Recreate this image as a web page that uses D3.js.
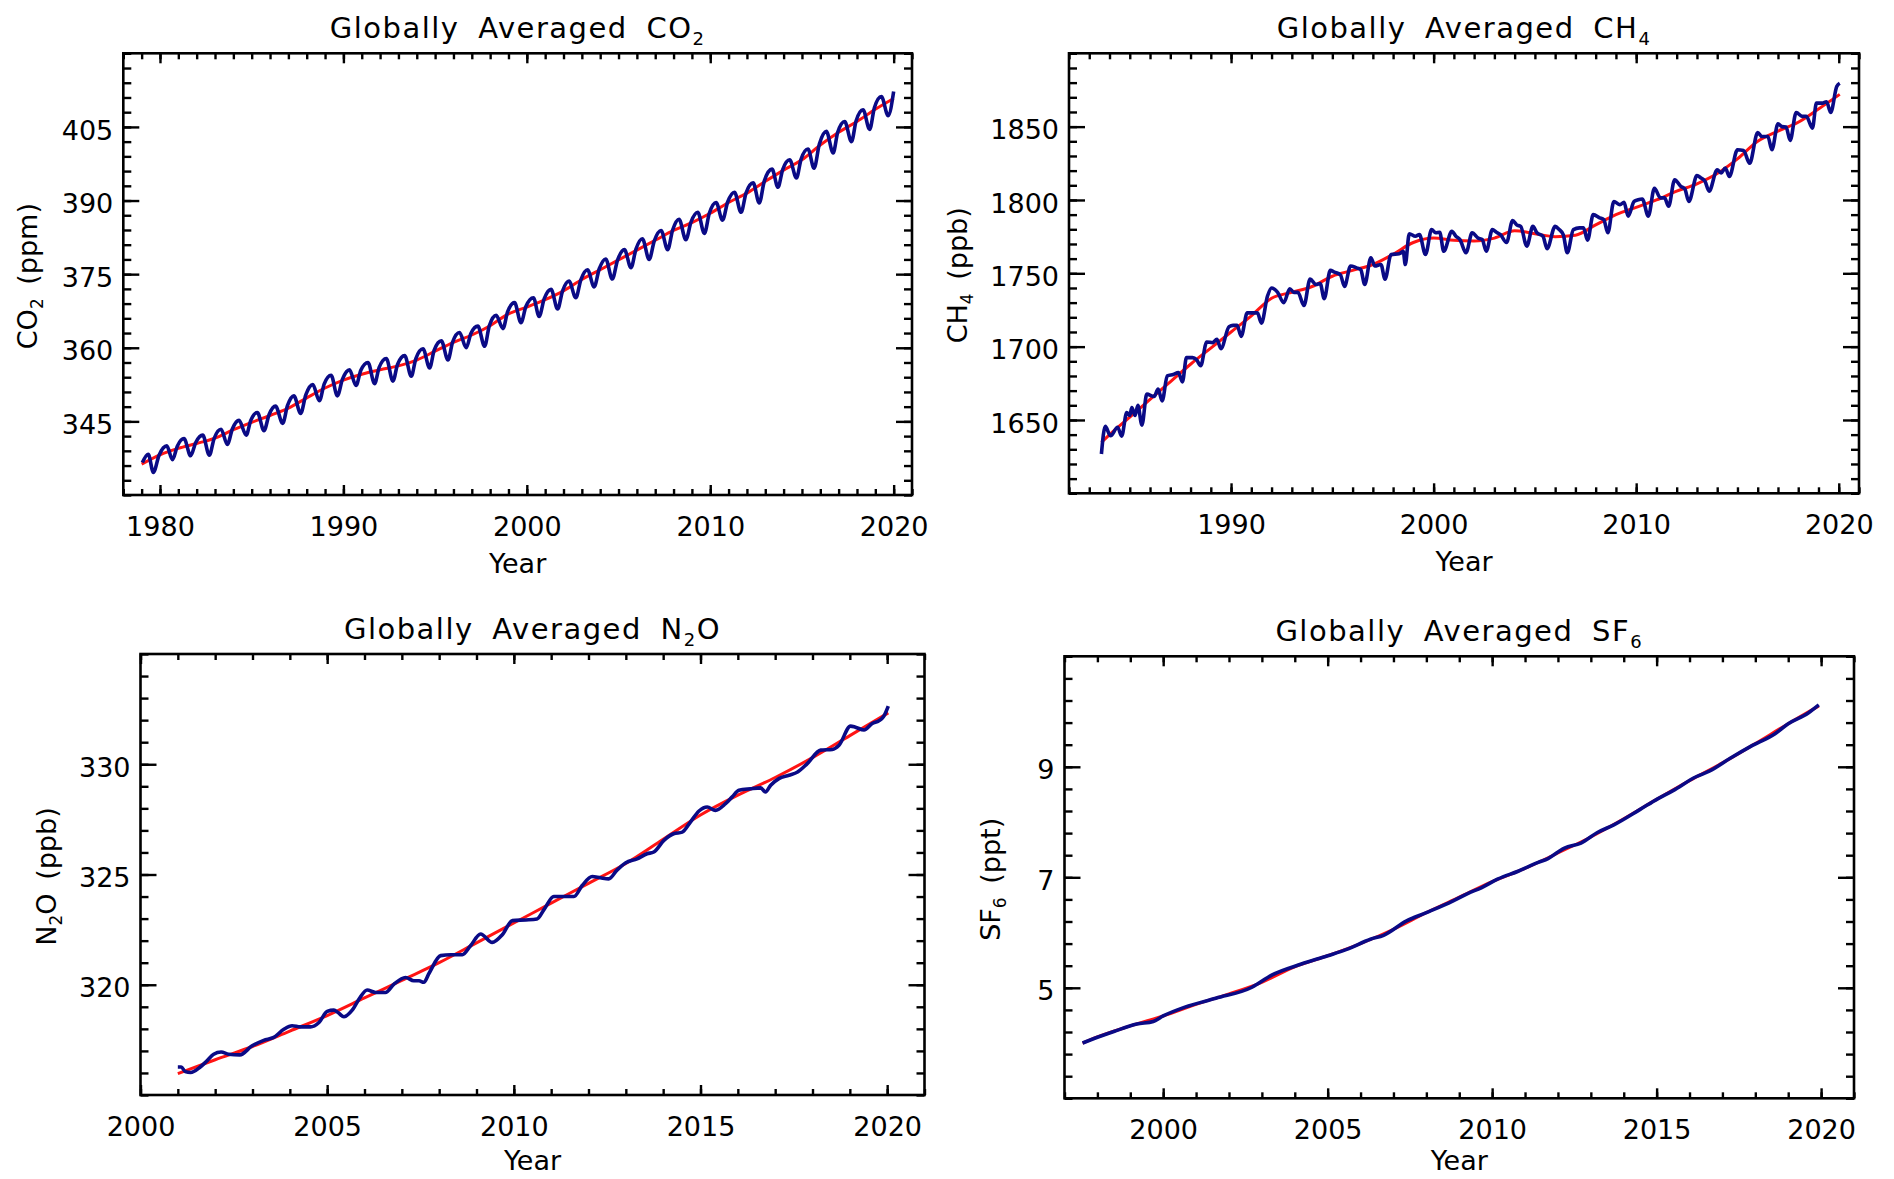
<!DOCTYPE html>
<html>
<head>
<meta charset="utf-8">
<script src="https://cdn.jsdelivr.net/npm/d3@7"></script>
<style>
  html, body { margin: 0; padding: 0; background: #fff; }
  svg text { font-family: 'DejaVu Sans', sans-serif; fill: #000; }
  .tick line { stroke: #000; stroke-width: 2.4px; }
</style>
</head>
<body>
<script>
const co2Obs = [
  [1979.04, 336.6],
  [1979.36, 338.3], [1979.64, 334.6], [1979.95, 338.1],
  [1980.37, 340.0], [1980.68, 337.2], [1980.95, 340.0],
  [1981.31, 341.5], [1981.67, 338.0], [1981.95, 340.7],
  [1982.33, 342.2], [1982.69, 338.1], [1982.95, 341.5],
  [1983.33, 343.4], [1983.67, 340.3], [1983.95, 343.5],
  [1984.31, 345.2], [1984.70, 342.2], [1984.95, 345.2],
  [1985.31, 346.8], [1985.67, 343.1], [1985.95, 346.4],
  [1986.30, 348.1], [1986.69, 344.6], [1986.95, 348.2],
  [1987.30, 350.2], [1987.67, 346.6], [1987.95, 350.4],
  [1988.33, 352.5], [1988.69, 349.2], [1988.95, 352.6],
  [1989.33, 354.4], [1989.67, 350.2], [1989.95, 353.6],
  [1990.33, 355.5], [1990.69, 352.3], [1990.95, 355.4],
  [1991.34, 357.0], [1991.70, 352.7], [1991.95, 356.0],
  [1992.34, 357.8], [1992.70, 353.2], [1992.95, 356.6],
  [1993.34, 358.4], [1993.70, 354.2], [1993.95, 357.8],
  [1994.34, 359.8], [1994.70, 355.9], [1994.95, 359.5],
  [1995.34, 361.4], [1995.70, 357.5], [1995.95, 361.1],
  [1996.33, 363.1], [1996.70, 360.0], [1996.95, 362.9],
  [1997.33, 364.4], [1997.70, 360.3], [1997.95, 364.4],
  [1998.33, 366.6], [1998.70, 363.9], [1998.95, 367.3],
  [1999.33, 369.2], [1999.68, 365.1], [1999.95, 368.4],
  [2000.36, 370.2], [2000.67, 366.4], [2000.95, 370.0],
  [2001.32, 371.9], [2001.68, 367.9], [2001.95, 371.6],
  [2002.30, 373.6], [2002.67, 370.2], [2002.95, 373.9],
  [2003.31, 375.9], [2003.67, 372.4], [2003.95, 376.1],
  [2004.30, 378.1], [2004.66, 374.0], [2004.95, 377.9],
  [2005.32, 380.0], [2005.68, 376.3], [2005.95, 380.1],
  [2006.30, 382.2], [2006.67, 378.0], [2006.95, 381.8],
  [2007.32, 383.9], [2007.68, 380.0], [2007.95, 384.0],
  [2008.30, 386.2], [2008.67, 382.0], [2008.95, 385.6],
  [2009.32, 387.6], [2009.68, 383.3], [2009.95, 387.4],
  [2010.32, 389.6], [2010.67, 386.0], [2010.95, 389.7],
  [2011.32, 391.7], [2011.68, 387.6], [2011.95, 391.5],
  [2012.34, 393.6], [2012.67, 389.5], [2012.95, 394.0],
  [2013.37, 396.4], [2013.69, 392.7], [2013.95, 396.3],
  [2014.33, 398.3], [2014.70, 394.6], [2014.95, 398.4],
  [2015.33, 400.5], [2015.66, 396.6], [2015.95, 401.5],
  [2016.33, 404.1], [2016.70, 399.7], [2016.95, 403.9],
  [2017.33, 406.1], [2017.70, 402.0], [2017.95, 406.2],
  [2018.33, 408.5], [2018.69, 404.5], [2018.95, 408.9],
  [2019.33, 411.2], [2019.70, 407.3], [2020.00, 412.2]
];
const co2Trend = [
  [1979, 336.3], [1980, 338.2], [1981, 339.5], [1982, 340.5], [1983, 341.6],
  [1984, 343.3], [1985, 344.8], [1986, 346.2], [1987, 347.7], [1988, 349.8],
  [1989, 351.8], [1990, 353.4], [1991, 354.6], [1992, 355.5], [1993, 356.3],
  [1994, 357.5], [1995, 359.3], [1996, 361.1], [1997, 362.6], [1998, 364.5],
  [1999, 366.9], [2000, 368.3], [2001, 369.8], [2002, 371.6], [2003, 373.9],
  [2004, 375.9], [2005, 377.9], [2006, 379.9], [2007, 381.9], [2008, 383.9],
  [2009, 385.5], [2010, 387.4], [2011, 389.6], [2012, 391.5], [2013, 393.9],
  [2014, 396.2], [2015, 398.3], [2016, 401.3], [2017, 403.9], [2018, 406.1],
  [2019, 408.6], [2020, 410.8]
];

const ch4Obs = [
  [1983.60, 1626.8], [1983.79, 1645.6], [1984.05, 1639.2], [1984.40, 1645.0], [1984.60, 1639.0],
  [1984.85, 1655.0], [1985.00, 1653.0], [1985.10, 1658.5], [1985.26, 1653.0], [1985.40, 1660.0],
  [1985.60, 1646.5], [1985.84, 1667.6], [1986.20, 1666.0], [1986.40, 1671.0], [1986.60, 1663.0],
  [1986.85, 1680.0], [1987.15, 1681.0], [1987.40, 1682.3], [1987.60, 1676.0], [1987.80, 1692.5],
  [1988.10, 1692.5], [1988.30, 1691.0], [1988.50, 1687.0], [1988.80, 1703.2], [1989.10, 1702.7],
  [1989.30, 1705.0], [1989.50, 1698.6], [1989.90, 1713.6], [1990.10, 1714.5], [1990.30, 1714.5],
  [1990.50, 1707.0], [1990.80, 1723.0], [1991.10, 1723.0], [1991.30, 1723.0], [1991.50, 1716.0],
  [1991.80, 1734.5], [1992.00, 1740.0], [1992.30, 1737.0], [1992.60, 1730.0], [1992.90, 1739.5],
  [1993.10, 1737.0], [1993.30, 1737.0], [1993.60, 1728.0], [1993.90, 1746.0], [1994.20, 1742.4],
  [1994.40, 1743.0], [1994.60, 1732.7], [1994.90, 1752.0], [1995.10, 1750.8], [1995.40, 1749.0],
  [1995.60, 1741.0], [1995.90, 1755.0], [1996.20, 1753.7], [1996.40, 1752.6], [1996.60, 1742.4],
  [1996.90, 1760.5], [1997.10, 1755.0], [1997.40, 1756.0], [1997.60, 1746.0], [1997.90, 1762.8],
  [1998.30, 1763.3], [1998.50, 1765.0], [1998.60, 1756.0], [1998.80, 1777.0], [1999.10, 1775.3],
  [1999.30, 1776.4], [1999.60, 1762.8], [1999.90, 1779.8], [2000.10, 1777.6], [2000.30, 1778.0],
  [2000.50, 1765.0], [2000.90, 1778.7], [2001.10, 1775.3], [2001.30, 1773.0], [2001.60, 1764.0],
  [2001.90, 1777.6], [2002.20, 1774.0], [2002.40, 1773.0], [2002.60, 1765.0], [2002.90, 1779.8],
  [2003.10, 1778.0], [2003.30, 1776.4], [2003.60, 1771.0], [2003.90, 1786.0], [2004.10, 1783.0],
  [2004.30, 1782.0], [2004.60, 1768.5], [2004.90, 1782.0], [2005.10, 1777.6], [2005.40, 1775.3],
  [2005.60, 1766.7], [2006.00, 1782.0], [2006.20, 1779.8], [2006.40, 1776.4], [2006.60, 1764.0],
  [2006.90, 1779.8], [2007.20, 1781.0], [2007.40, 1781.0], [2007.60, 1772.6], [2007.88, 1790.0],
  [2008.20, 1787.8], [2008.40, 1786.6], [2008.60, 1777.6], [2008.90, 1799.0], [2009.20, 1796.8],
  [2009.40, 1798.4], [2009.60, 1789.0], [2009.90, 1799.0], [2010.10, 1800.2], [2010.30, 1800.7],
  [2010.60, 1789.0], [2010.90, 1808.0], [2011.20, 1801.4], [2011.40, 1801.4], [2011.60, 1795.7],
  [2011.90, 1813.8], [2012.20, 1809.3], [2012.40, 1807.5], [2012.60, 1799.0], [2013.00, 1816.6],
  [2013.20, 1815.0], [2013.40, 1812.7], [2013.60, 1806.0], [2014.00, 1820.6], [2014.20, 1818.4],
  [2014.40, 1821.8], [2014.60, 1816.0], [2015.00, 1834.2], [2015.30, 1833.8], [2015.60, 1825.0],
  [2016.00, 1846.0], [2016.20, 1843.3], [2016.50, 1843.3], [2016.70, 1834.2], [2017.00, 1852.0],
  [2017.20, 1850.0], [2017.40, 1849.7], [2017.60, 1840.6], [2017.90, 1859.6], [2018.20, 1857.0],
  [2018.40, 1857.0], [2018.70, 1849.0], [2018.90, 1866.0], [2019.20, 1866.0], [2019.40, 1867.0],
  [2019.60, 1859.6], [2019.90, 1877.3], [2020.05, 1879.6]
];
const ch4Trend = [
  [1983.6, 1634.7], [1984, 1640], [1985, 1652], [1986, 1664], [1987, 1676], [1988, 1688],
  [1989, 1699], [1990, 1710], [1991, 1721], [1992, 1733], [1993, 1737], [1994, 1741],
  [1995, 1748], [1996, 1752], [1997, 1756], [1998, 1763], [1999, 1771], [2000, 1774],
  [2001, 1772.5], [2002, 1772], [2003, 1774], [2004, 1779], [2005, 1777], [2006, 1775],
  [2007, 1776], [2008, 1783], [2009, 1790], [2010, 1795], [2011, 1800], [2012, 1806],
  [2013, 1811], [2014, 1818], [2015, 1828], [2016, 1840], [2017, 1847], [2018, 1853],
  [2019, 1862], [2020.05, 1872]
];

const n2oObs = [
  [2001.00, 316.27], [2001.09, 316.27], [2001.20, 316.06], [2001.34, 316.02], [2001.60, 316.27],
  [2001.78, 316.55], [2001.96, 316.85], [2002.16, 316.95], [2002.36, 316.85], [2002.66, 316.82],
  [2002.99, 317.23], [2003.30, 317.48], [2003.57, 317.61], [2003.84, 317.98], [2004.06, 318.14],
  [2004.28, 318.09], [2004.55, 318.09], [2004.78, 318.29], [2005.00, 318.79], [2005.18, 318.85],
  [2005.29, 318.74], [2005.45, 318.55], [2005.67, 318.85], [2005.88, 319.42], [2006.07, 319.76],
  [2006.30, 319.65], [2006.56, 319.65], [2006.79, 320.03], [2007.10, 320.33], [2007.32, 320.18],
  [2007.46, 320.18], [2007.59, 320.11], [2007.73, 320.52], [2008.04, 321.32], [2008.31, 321.36],
  [2008.62, 321.36], [2008.84, 321.77], [2009.11, 322.30], [2009.42, 321.92], [2009.69, 322.27],
  [2009.96, 322.91], [2010.32, 322.94], [2010.62, 322.98], [2010.82, 323.44], [2011.07, 324.00],
  [2011.34, 324.00], [2011.61, 324.00], [2011.83, 324.50], [2012.10, 324.91], [2012.32, 324.85],
  [2012.54, 324.80], [2012.77, 325.21], [2012.99, 325.52], [2013.30, 325.71], [2013.57, 325.94],
  [2013.75, 326.02], [2014.02, 326.55], [2014.28, 326.85], [2014.51, 326.92], [2014.73, 327.38],
  [2014.96, 327.88], [2015.18, 328.06], [2015.40, 327.91], [2015.67, 328.21], [2015.85, 328.52],
  [2016.03, 328.82], [2016.34, 328.89], [2016.61, 328.93], [2016.74, 328.74], [2016.88, 329.05],
  [2017.10, 329.35], [2017.37, 329.50], [2017.60, 329.65], [2017.86, 330.03], [2018.22, 330.64],
  [2018.53, 330.67], [2018.71, 330.86], [2019.02, 331.73], [2019.15, 331.68], [2019.38, 331.55],
  [2019.60, 331.85], [2019.78, 331.97], [2019.90, 332.15], [2020.03, 332.64]
];
const n2oTrend = [
  [2001, 315.97], [2002, 316.6], [2003, 317.2], [2004, 317.9], [2005, 318.6],
  [2006, 319.4], [2007, 320.2], [2008, 321.0], [2009, 321.9], [2010, 322.8],
  [2011, 323.7], [2012, 324.6], [2013, 325.5], [2014, 326.6], [2015, 327.7],
  [2016, 328.6], [2017, 329.4], [2018, 330.3], [2019, 331.3], [2020.03, 332.33]
];

const sf6Obs = [
  [1997.55, 4.00], [1997.98, 4.10], [1998.50, 4.21], [1999.20, 4.345], [1999.70, 4.39],
  [2000.00, 4.49], [2000.66, 4.65], [2001.60, 4.81], [2002.70, 5.01], [2003.30, 5.23],
  [2004.20, 5.43], [2005.00, 5.58], [2005.60, 5.70], [2006.30, 5.88], [2006.70, 5.95],
  [2007.40, 6.21], [2008.00, 6.36], [2008.80, 6.57], [2009.27, 6.71], [2009.67, 6.81],
  [2010.18, 6.97], [2010.79, 7.11], [2011.40, 7.27], [2011.70, 7.34], [2012.20, 7.53],
  [2012.70, 7.62], [2013.20, 7.81], [2013.70, 7.95], [2014.50, 8.23], [2015.03, 8.42],
  [2015.50, 8.57], [2016.20, 8.82], [2016.60, 8.92], [2017.25, 9.16], [2017.86, 9.37],
  [2018.60, 9.60], [2019.00, 9.78], [2019.60, 9.97], [2019.93, 10.12]
];
const sf6Trend = [
  [1997.55, 4.00], [1998, 4.11], [1999, 4.31], [2000, 4.49], [2001, 4.70], [2002, 4.89],
  [2003, 5.10], [2004, 5.38], [2005, 5.58], [2006, 5.80], [2007, 6.06], [2008, 6.36],
  [2009, 6.64], [2010, 6.92], [2011, 7.16], [2012, 7.44], [2013, 7.73], [2014, 8.06],
  [2015, 8.41], [2016, 8.75], [2017, 9.07], [2018, 9.42], [2019, 9.78], [2019.93, 10.10]
];

// tick labels
const co2XTicks = [1980, 1990, 2000, 2010, 2020];
const co2YTicks = [345, 360, 375, 390, 405];
const ch4XTicks = [1990, 2000, 2010, 2020];
const ch4YTicks = [1650, 1700, 1750, 1800, 1850];
const n2oXTicks = [2000, 2005, 2010, 2015, 2020];
const n2oYTicks = [320, 325, 330];
const sf6XTicks = [2000, 2005, 2010, 2015, 2020];
const sf6YTicks = [5, 7, 9];

const width = 1894;
const height = 1179;
const blue = '#0a0a86';
const red = '#ff1414';

const panels = [
  { title: 'Globally Averaged CO_2', ylabel: 'CO_2 (ppm)', obs: co2Obs, trend: co2Trend,
    box: [123.3, 53.3, 912, 495], xDomain: [1978, 2021], yDomain: [330, 420],
    xTicks: co2XTicks, yTicks: co2YTicks, xMinor: 1, yMinor: 3, ylabelOffset: 86 },
  { title: 'Globally Averaged CH_4', ylabel: 'CH_4 (ppb)', obs: ch4Obs, trend: ch4Trend,
    box: [1069, 53.3, 1859, 493.3], xDomain: [1982, 2021], yDomain: [1600, 1900],
    xTicks: ch4XTicks, yTicks: ch4YTicks, xMinor: 1, yMinor: 10, ylabelOffset: 102 },
  { title: 'Globally Averaged N_2O', ylabel: 'N_2O (ppb)', obs: n2oObs, trend: n2oTrend,
    box: [140.5, 654, 924.5, 1095], xDomain: [2000, 2021], yDomain: [315, 335],
    xTicks: n2oXTicks, yTicks: n2oYTicks, xMinor: 1, yMinor: 1, ylabelOffset: 85 },
  { title: 'Globally Averaged SF_6', ylabel: 'SF_6 (ppt)', obs: sf6Obs, trend: sf6Trend,
    box: [1064.5, 656.3, 1854, 1098.3], xDomain: [1997, 2021], yDomain: [3, 11],
    xTicks: sf6XTicks, yTicks: sf6YTicks, xMinor: 1, yMinor: 0.4, ylabelOffset: 65 }
];

function subText(sel, str, subSize, shift) {
  const parts = str.split(/_(\d)/);
  let down = false;
  parts.forEach((s, i) => {
    if (s === '') return;
    const t = sel.append('tspan').text(s);
    if (i % 2 === 1) {
      t.attr('font-size', subSize).attr('dy', shift);
      down = true;
    } else if (down) {
      t.attr('dy', -shift);
      down = false;
    }
  });
}

function axis(g, gen, values, size, pad, fmt, transform) {
  return g.append('g')
    .attr('transform', transform)
    .call(gen.tickValues(values).tickSizeInner(size).tickSizeOuter(0).tickPadding(pad).tickFormat(fmt))
    .call(a => a.select('.domain').remove())
    .attr('font-size', null)
    .attr('font-family', null);
}

function drawPanel(svg, p) {
  const [x0, y0, x1, y1] = p.box;
  const x = d3.scaleLinear().domain(p.xDomain).range([x0, x1]);
  const y = d3.scaleLinear().domain(p.yDomain).range([y1, y0]);
  const g = svg.append('g');

  const line = d3.line()
    .x(d => x(d[0]))
    .y(d => y(d[1]))
    .curve(d3.curveMonotoneX);

  g.append('path')
    .datum(p.trend)
    .attr('fill', 'none')
    .attr('stroke', red)
    .attr('stroke-width', 3)
    .attr('d', line);

  g.append('path')
    .datum(p.obs)
    .attr('fill', 'none')
    .attr('stroke', blue)
    .attr('stroke-width', 3.6)
    .attr('stroke-linejoin', 'round')
    .attr('d', line);

  const xMinor = d3.range(p.xDomain[0], p.xDomain[1] + 1e-6, p.xMinor);
  const yMinor = d3.range(p.yDomain[0], p.yDomain[1] + 1e-6, p.yMinor);
  const fmt = d3.format('d');

  // bottom / top
  axis(g, d3.axisBottom(x), xMinor, -6, 0, '', `translate(0,${y1})`);
  axis(g, d3.axisBottom(x), p.xTicks, -10, 22, fmt, `translate(0,${y1})`);
  axis(g, d3.axisBottom(x), xMinor, 6, 0, '', `translate(0,${y0})`);
  axis(g, d3.axisBottom(x), p.xTicks, 10, 0, '', `translate(0,${y0})`);
  // left / right
  axis(g, d3.axisLeft(y), yMinor, -8, 0, '', `translate(${x0},0)`);
  axis(g, d3.axisLeft(y), p.yTicks, -16, 10, fmt, `translate(${x0},0)`)
    .selectAll('text').attr('dy', '0.45em');
  axis(g, d3.axisLeft(y), yMinor, 8, 0, '', `translate(${x1},0)`);
  axis(g, d3.axisLeft(y), p.yTicks, 16, 0, '', `translate(${x1},0)`);

  g.selectAll('.tick text').style('font-size', '27px');

  g.append('rect')
    .attr('x', x0)
    .attr('y', y0)
    .attr('width', x1 - x0)
    .attr('height', y1 - y0)
    .attr('fill', 'none')
    .attr('stroke', '#000')
    .attr('stroke-width', 2.6);

  const title = g.append('text')
    .attr('x', (x0 + x1) / 2)
    .attr('y', y0 - 15.5)
    .attr('text-anchor', 'middle')
    .style('font-size', '29px')
    .style('letter-spacing', '1.5px')
    .style('word-spacing', '8px');
  subText(title, p.title, 18, 7);

  // keep the lowest "Year" clear of the bottom edge
  g.append('text')
    .attr('x', (x0 + x1) / 2)
    .attr('y', Math.min(y1 + 77.5, height - 9))
    .attr('text-anchor', 'middle')
    .style('font-size', '27px')
    .text('Year');

  const yl = g.append('text')
    .attr('transform', `translate(${x0 - p.ylabelOffset},${(y0 + y1) / 2 + 2}) rotate(-90)`)
    .attr('text-anchor', 'middle')
    .style('font-size', '27px')
    .style('word-spacing', '5px');
  subText(yl, p.ylabel, 17, 6);
}

function main() {
  const svg = d3.select('body').append('svg')
    .attr('width', width)
    .attr('height', height)
    .attr('viewBox', [0, 0, width, height]);

  svg.append('rect')
    .attr('width', width)
    .attr('height', height)
    .attr('fill', '#fff');

  panels.forEach(p => drawPanel(svg, p));
}

main();
</script>
</body>
</html>
